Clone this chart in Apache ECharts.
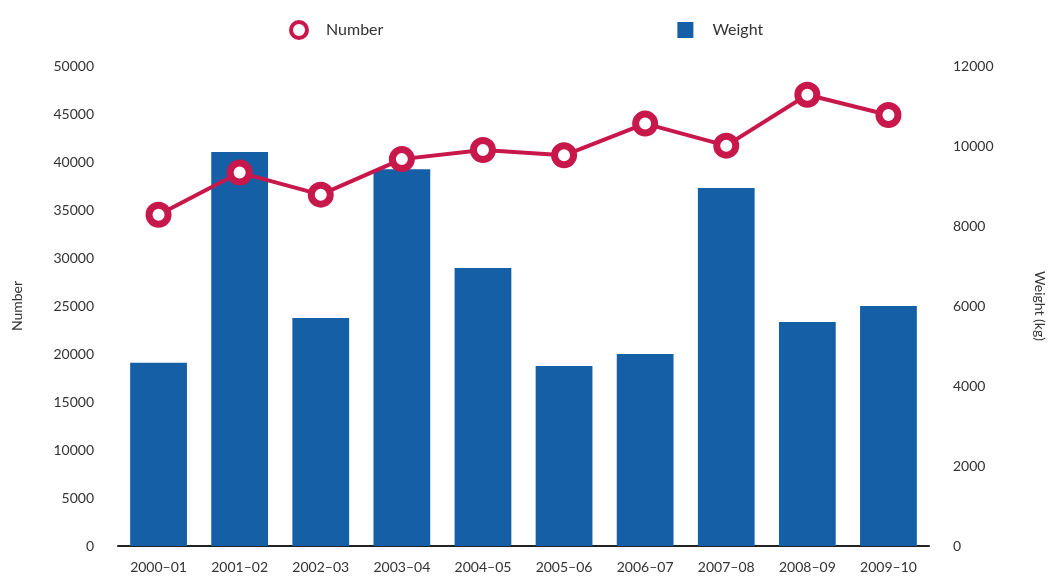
<!DOCTYPE html>
<html>
<head>
<meta charset="utf-8">
<script src="https://cdn.jsdelivr.net/npm/echarts@6/dist/echarts.min.js"></script>
<style>
  html, body { margin: 0; padding: 0; background: #ffffff; }
  #chart { width: 1049px; height: 577px; }
</style>
</head>
<body>
<div id="chart"></div>
<script>
// Seasons on the category axis
const seasons = ['2000–01', '2001–02', '2002–03', '2003–04', '2004–05', '2005–06', '2006–07', '2007–08', '2008–09', '2009–10'];
// Count per season (left axis)
const numberValues = [34500, 38900, 36600, 40300, 41250, 40700, 44000, 41700, 47000, 44900];
// Weight per season in kg (right axis)
const weightValues = [4580, 9850, 5700, 9420, 6950, 4500, 4800, 8950, 5600, 6000];
// Axis ranges
const numberAxis = { min: 0, max: 50000, interval: 5000 };
const weightAxis = { min: 0, max: 12000, interval: 2000 };

const FONT = 'Lato, "Open Sans", sans-serif';
const RED = '#c8174a';
const BLUE = '#155fa6';
const plain = v => String(v);

const chart = echarts.init(document.getElementById('chart'), null, { renderer: 'canvas' });
chart.setOption({
  animation: false,
  backgroundColor: '#ffffff',
  textStyle: { fontFamily: FONT, color: '#333' },
  legend: {
    top: 15,
    left: 284,
    itemGap: 294,
    itemWidth: 16,
    itemHeight: 16,
    textStyle: { fontFamily: FONT, fontSize: 16, color: '#333', padding: [0, 0, 0, 14] },
    data: [
      { name: 'Number', icon: 'circle', itemStyle: { color: '#ffffff', borderColor: RED, borderWidth: 4 } },
      { name: 'Weight', icon: 'rect', itemStyle: { color: BLUE } }
    ]
  },
  grid: { left: 118, right: 120, top: 66, bottom: 31, containLabel: false, outerBoundsMode: 'none' },
  xAxis: {
    type: 'category',
    data: seasons,
    axisLine: { show: true, lineStyle: { color: '#222', width: 2 } },
    axisTick: { show: false },
    axisLabel: { fontFamily: FONT, fontSize: 14, color: '#333', margin: 14, interval: 0 }
  },
  yAxis: [
    {
      type: 'value',
      name: 'Number',
      nameLocation: 'middle',
      nameGap: 94,
      nameTextStyle: { fontFamily: FONT, fontSize: 14, color: '#333' },
      min: numberAxis.min, max: numberAxis.max, interval: numberAxis.interval,
      axisLine: { show: false },
      axisTick: { show: false },
      splitLine: { show: false },
      axisLabel: { fontFamily: FONT, fontSize: 14, color: '#333', margin: 24, formatter: plain }
    },
    {
      type: 'value',
      name: 'Weight (kg)',
      nameLocation: 'middle',
      nameGap: 104,
      nameRotate: -90,
      nameTextStyle: { fontFamily: FONT, fontSize: 14, color: '#333' },
      min: weightAxis.min, max: weightAxis.max, interval: weightAxis.interval,
      axisLine: { show: false },
      axisTick: { show: false },
      splitLine: { show: false },
      axisLabel: { fontFamily: FONT, fontSize: 14, color: '#333', margin: 24, formatter: plain }
    }
  ],
  series: [
    {
      name: 'Weight',
      type: 'bar',
      yAxisIndex: 1,
      data: weightValues,
      barWidth: '70%',
      itemStyle: { color: BLUE },
      z: 1
    },
    {
      name: 'Number',
      type: 'line',
      yAxisIndex: 0,
      data: numberValues,
      symbol: 'circle',
      symbolSize: 19,
      lineStyle: { color: RED, width: 4 },
      itemStyle: { color: '#ffffff', borderColor: RED, borderWidth: 7 },
      z: 3
    }
  ]
});
</script>
</body>
</html>
